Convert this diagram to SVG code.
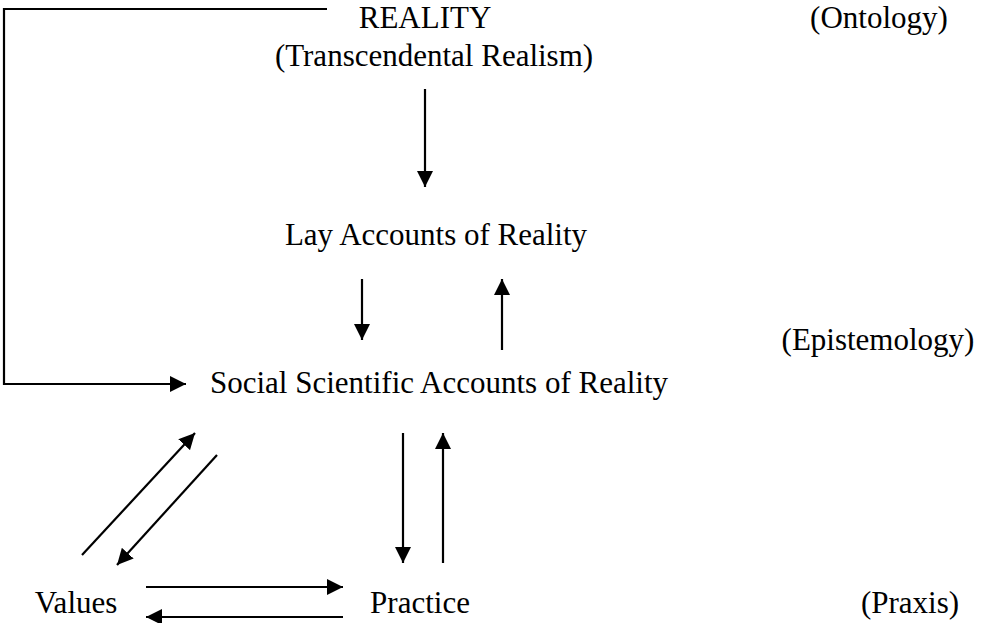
<svg xmlns="http://www.w3.org/2000/svg" width="982" height="623" viewBox="0 0 982 623">
<style>
text{font-family:"Liberation Serif","Times New Roman",serif;font-size:31px;fill:#000}
.c line,.c polyline{stroke:#000;stroke-width:2.2;fill:none}
</style>
<defs>
<marker id="ah" viewBox="0 0 10 10" refX="10" refY="5" markerWidth="16" markerHeight="16" markerUnits="userSpaceOnUse" orient="auto">
<path d="M0,0 L10,5 L0,10 z" fill="#000"/>
</marker>
</defs>
<rect width="982" height="623" fill="#fff"/>
<g id="reality"><text x="425" y="28" text-anchor="middle">REALITY</text>
<text x="434" y="66" text-anchor="middle">(Transcendental Realism)</text></g>
<g id="ontology"><text x="879" y="28" text-anchor="middle">(Ontology)</text></g>
<g id="lay"><text x="436" y="245" text-anchor="middle">Lay Accounts of Reality</text></g>
<g id="epistemology"><text x="878" y="350" text-anchor="middle">(Epistemology)</text></g>
<g id="social"><text x="439" y="393" text-anchor="middle">Social Scientific Accounts of Reality</text></g>
<g id="values"><text x="76" y="613" text-anchor="middle">Values</text></g>
<g id="practice"><text x="420" y="613" text-anchor="middle">Practice</text></g>
<g id="praxis"><text x="910" y="613" text-anchor="middle">(Praxis)</text></g>
<g class="c" id="connectors">
<polyline points="327,9 4,9 4,384 186,384" marker-end="url(#ah)"/>
<line x1="425" y1="89" x2="425" y2="187" marker-end="url(#ah)"/>
<line x1="362" y1="279" x2="362" y2="340" marker-end="url(#ah)"/>
<line x1="502" y1="350" x2="502" y2="279" marker-end="url(#ah)"/>
<line x1="403" y1="433" x2="403" y2="563" marker-end="url(#ah)"/>
<line x1="443" y1="563" x2="443" y2="433" marker-end="url(#ah)"/>
<line x1="82" y1="555" x2="195" y2="433" marker-end="url(#ah)"/>
<line x1="217" y1="455" x2="117" y2="565" marker-end="url(#ah)"/>
<line x1="146" y1="587" x2="343" y2="587" marker-end="url(#ah)"/>
<line x1="343" y1="617" x2="146" y2="617" marker-end="url(#ah)"/>
</g>
</svg>
